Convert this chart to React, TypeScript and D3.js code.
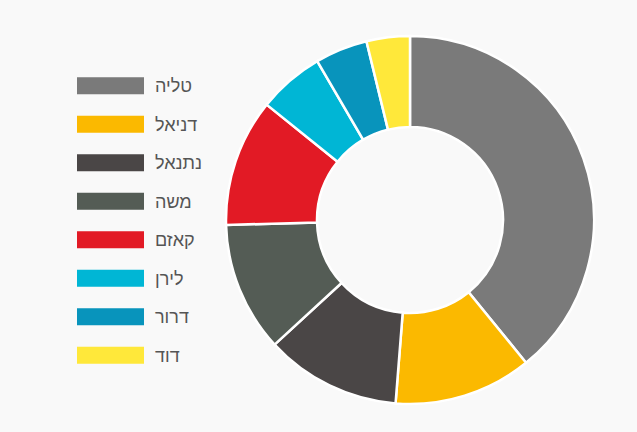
import React from "react";
import * as d3 from "d3";

const names = ["טליה", "דניאל", "נתנאל", "משה", "קאזם", "לירן", "דרור", "דוד"];
const values = [39.1, 12.1, 11.9, 11.4, 11.2, 5.8, 4.6, 3.8];
const colors = ["#7a7a7a", "#fbb900", "#4a4646", "#545c55", "#e21a25", "#00b6d5", "#0894bc", "#ffe83a"];

export default function App() {
  const W = 637, H = 432;
  const cx = 410, cy = 220, R = 184, r = 93;
  const pie = d3.pie<number>().sort(null).value((d) => d);
  const arcs = pie(values);
  const arc = d3.arc<d3.PieArcDatum<number>>().innerRadius(r).outerRadius(R);
  const legendY = d3.scaleBand<number>().domain(d3.range(names.length)).range([66.5, 374.5]);
  return (
    <svg width={W} height={H} style={{ position: "absolute", left: 0, top: 0, background: "#f9f9f9" }}>
      <rect width={W} height={H} fill="#f9f9f9" />
      <g transform={`translate(${cx},${cy})`}>
        {arcs.map((a, i) => (
          <path key={i} d={arc(a) || ""} fill={colors[i]} stroke="#ffffff" strokeWidth={2.5} />
        ))}
      </g>
      <g>
        {names.map((n, i) => {
          const yc = (legendY(i) as number) + legendY.bandwidth() / 2;
          return (
            <g key={i}>
              <rect x={77} y={yc - 8.5} width={67} height={17} fill={colors[i]} />
              <text x={155} y={yc} dy="0.36em" fontFamily="'Liberation Sans', Arial, sans-serif" fontSize={18} fill="#555555">
                {n}
              </text>
            </g>
          );
        })}
      </g>
    </svg>
  );
}
